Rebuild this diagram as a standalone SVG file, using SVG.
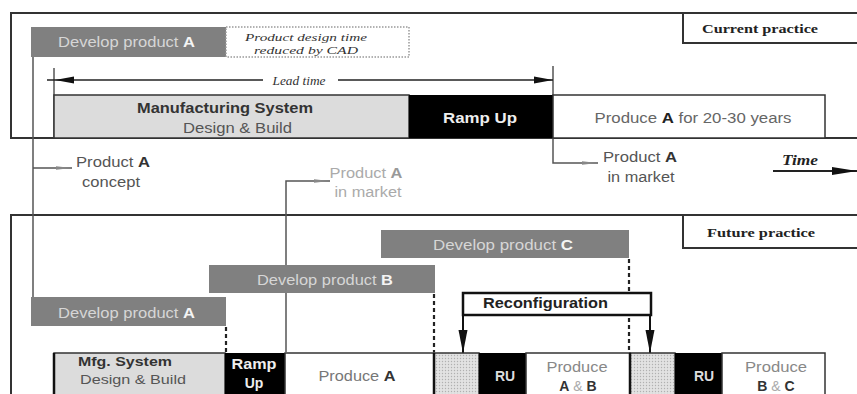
<svg xmlns="http://www.w3.org/2000/svg" width="857" height="394" viewBox="0 0 857 394">
<defs>
<style>
.frame{fill:none;stroke:#333;stroke-width:2}
.dev{fill:#808080}
.s{font-family:"Liberation Sans",Arial,sans-serif}
.sf{font-family:"Liberation Serif","Times New Roman",serif}
.devt{font-family:"Liberation Sans",Arial,sans-serif;font-size:14px;fill:#d6d6d6;text-anchor:middle}
.devt .b{fill:#f4f4f4}
.b{font-weight:bold}
.m{text-anchor:middle}
.thin{fill:none;stroke:#555;stroke-width:1.5}
.dash{fill:none;stroke:#222;stroke-width:2.2;stroke-dasharray:4 3}
.bar{stroke:#333;stroke-width:1.5}
</style>
<pattern id="dots" width="3" height="3" patternUnits="userSpaceOnUse">
<rect width="3" height="3" fill="#e2e2e2"/>
<circle cx="1.5" cy="1.5" r="0.7" fill="#b0b0b0"/>
</pattern>
<marker id="garrow" markerUnits="userSpaceOnUse" markerWidth="18" markerHeight="8" refX="16" refY="4" orient="auto"><path d="M0,2.3 L16,4 L0,5.7 Z" fill="#888"/></marker>
<marker id="barrow" markerUnits="userSpaceOnUse" markerWidth="20" markerHeight="10" refX="19" refY="5" orient="auto"><path d="M0,1.5 L19,5 L0,8.5 Z" fill="#111"/></marker>
<marker id="barrowS" markerUnits="userSpaceOnUse" markerWidth="20" markerHeight="10" refX="0" refY="5" orient="auto"><path d="M19,1.5 L0,5 L19,8.5 Z" fill="#111"/></marker>
<marker id="tarrow" markerUnits="userSpaceOnUse" markerWidth="26" markerHeight="12" refX="25" refY="6" orient="auto"><path d="M0,2 L25,6 L0,10 Z" fill="#111"/></marker>
<marker id="darrow" markerUnits="userSpaceOnUse" markerWidth="24" markerHeight="12" refX="23" refY="6" orient="auto"><path d="M0,1.5 L23,6 L0,10.5 Z" fill="#111"/></marker>
</defs>
<rect width="857" height="394" fill="#fff"/>

<!-- frames -->
<g id="current-frame">
<path class="frame" d="M858,13 H11 V138 H858"/>
<path class="frame" d="M683,13 V43 H858"/>
<text class="sf b m" x="760" y="33" font-size="13" fill="#222" textLength="116" lengthAdjust="spacingAndGlyphs">Current practice</text>
</g>
<g id="future-frame">
<path class="frame" d="M858,215 H11 V396"/>
<path class="frame" d="M683,215 V248 H858"/>
<text class="sf b m" x="761" y="237" font-size="13" fill="#222" textLength="108" lengthAdjust="spacingAndGlyphs">Future practice</text>
</g>

<!-- connectors -->
<g id="connectors">
<path class="thin" d="M33,57 V297"/>
<path class="thin" d="M33,168 H72" marker-end="url(#garrow)"/>
<path class="thin" d="M286,352 V181 H330" marker-end="url(#garrow)"/>
<path class="thin" d="M54,68 V138"/>
<path class="thin" d="M553,66 V163 H598" marker-end="url(#garrow)"/>
<path d="M47,80 H263" stroke="#222" stroke-width="1.6" fill="none"/>
<path d="M55,80 H263" stroke="none" fill="none" marker-start="url(#barrowS)"/>
<path d="M338,80 H553" stroke="#222" stroke-width="1.6" fill="none" marker-end="url(#barrow)"/>
<path d="M773,171 H857" stroke="#222" stroke-width="1.8" fill="none" marker-end="url(#tarrow)"/>
<path class="dash" d="M226,327 V352"/>
<path class="dash" d="M434,294 V352"/>
<path class="dash" d="M629,259 V292 M629,318 V352"/>
<path d="M463,315 V353" stroke="#111" stroke-width="2" fill="none" marker-end="url(#darrow)"/>
<path d="M650,315 V353" stroke="#111" stroke-width="2" fill="none" marker-end="url(#darrow)"/>
</g>

<!-- top section -->
<g id="develop-a-top">
<rect class="dev" x="31" y="27" width="195" height="30"/>
<text class="devt" x="126.5" y="47" textLength="137" lengthAdjust="spacingAndGlyphs">Develop product <tspan class="b">A</tspan></text>
</g>
<g id="cad-note">
<rect x="226" y="27" width="183" height="30" fill="none" stroke="#999" stroke-width="1.5" stroke-dasharray="1.5 1.5"/>
<text class="sf m" x="306" y="41" font-size="11" font-style="italic" fill="#333" textLength="122" lengthAdjust="spacingAndGlyphs">Product design time</text>
<text class="sf m" x="306" y="54" font-size="11" font-style="italic" fill="#333" textLength="104" lengthAdjust="spacingAndGlyphs">reduced by CAD</text>
</g>
<g id="lead-time">
<text class="sf m" x="299" y="85" font-size="12" font-style="italic" fill="#333" textLength="53" lengthAdjust="spacingAndGlyphs">Lead time</text>
</g>
<g id="mfg-top">
<rect class="bar" x="54" y="95" width="355" height="43" fill="#dcdcdc"/>
<text class="s b m" x="225" y="113" font-size="14" fill="#333" textLength="176" lengthAdjust="spacingAndGlyphs">Manufacturing System</text>
<text class="s m" x="237.5" y="133" font-size="14" fill="#555" textLength="109" lengthAdjust="spacingAndGlyphs">Design &amp; Build</text>
</g>
<g id="ramp-top">
<rect x="409" y="95" width="144" height="43" fill="#000"/>
<text class="s b m" x="480" y="123" font-size="14" fill="#eee" textLength="74" lengthAdjust="spacingAndGlyphs">Ramp Up</text>
</g>
<g id="produce-top">
<rect class="bar" x="553" y="95" width="272" height="43" fill="#fff"/>
<text class="s m" x="693" y="123" font-size="14" fill="#666" textLength="197" lengthAdjust="spacingAndGlyphs">Produce <tspan class="b" fill="#222">A</tspan>  for 20-30 years</text>
</g>
<g id="concept-label">
<text class="s m" x="113" y="167" font-size="14" fill="#555" textLength="74" lengthAdjust="spacingAndGlyphs">Product <tspan class="b" fill="#333">A</tspan></text>
<text class="s m" x="111" y="187" font-size="14" fill="#555" textLength="58" lengthAdjust="spacingAndGlyphs">concept</text>
</g>
<g id="market-label-future">
<text class="s m" x="366" y="178" font-size="14" fill="#aaa" textLength="73" lengthAdjust="spacingAndGlyphs">Product <tspan class="b" fill="#999">A</tspan></text>
<text class="s m" x="368" y="197" font-size="14" fill="#aaa" textLength="67" lengthAdjust="spacingAndGlyphs">in market</text>
</g>
<g id="market-label-current">
<text class="s m" x="640" y="162" font-size="14" fill="#555" textLength="74" lengthAdjust="spacingAndGlyphs">Product <tspan class="b" fill="#333">A</tspan></text>
<text class="s m" x="641" y="182" font-size="14" fill="#555" textLength="67" lengthAdjust="spacingAndGlyphs">in market</text>
</g>
<g id="time-label">
<text class="sf b m" x="800" y="165" font-size="14" font-style="italic" fill="#222" textLength="36" lengthAdjust="spacingAndGlyphs">Time</text>
</g>

<!-- bottom section -->
<g id="develop-c">
<rect class="dev" x="381" y="230" width="248" height="28"/>
<text class="devt" x="503" y="250" textLength="140" lengthAdjust="spacingAndGlyphs">Develop product <tspan class="b">C</tspan></text>
</g>
<g id="develop-b">
<rect class="dev" x="209" y="265" width="226" height="28"/>
<text class="devt" x="325" y="285" textLength="136" lengthAdjust="spacingAndGlyphs">Develop product <tspan class="b">B</tspan></text>
</g>
<g id="develop-a-bottom">
<rect class="dev" x="31" y="297" width="195" height="29"/>
<text class="devt" x="126.5" y="318" textLength="137" lengthAdjust="spacingAndGlyphs">Develop product <tspan class="b">A</tspan></text>
</g>
<g id="reconfiguration">
<rect x="463" y="293" width="188" height="22" fill="#fff" stroke="#111" stroke-width="2.5"/>
<text class="s b" x="483" y="308" font-size="14" fill="#222" textLength="125" lengthAdjust="spacingAndGlyphs">Reconfiguration</text>
</g>
<g id="mfg-bottom">
<rect class="bar" x="54" y="353" width="171" height="50" fill="#dcdcdc"/>
<text class="s b m" x="125" y="366" font-size="13" fill="#333" textLength="94" lengthAdjust="spacingAndGlyphs">Mfg. System</text>
<text class="s m" x="133" y="384" font-size="13" fill="#555" textLength="106" lengthAdjust="spacingAndGlyphs">Design &amp; Build</text>
</g>
<g id="ramp-bottom">
<rect x="225" y="353" width="60" height="50" fill="#000"/>
<text class="s b m" x="254" y="369" font-size="14" fill="#eee" textLength="45" lengthAdjust="spacingAndGlyphs">Ramp</text>
<text class="s b m" x="254" y="388" font-size="14" fill="#eee">Up</text>
</g>
<g id="produce-a-bottom">
<rect class="bar" x="285" y="353" width="149" height="50" fill="#fff"/>
<text class="s m" x="357" y="381" font-size="14" fill="#777" textLength="77" lengthAdjust="spacingAndGlyphs">Produce <tspan class="b" fill="#333">A</tspan></text>
</g>
<g id="reconf-1">
<rect x="434" y="353" width="45" height="50" fill="url(#dots)" stroke="#333" stroke-width="1.5"/>
</g>
<g id="ru-1">
<rect x="479" y="353" width="47" height="50" fill="#000"/>
<text class="s b m" x="505" y="381" font-size="14" fill="#ddd">RU</text>
</g>
<g id="produce-ab">
<rect class="bar" x="526" y="353" width="104" height="50" fill="#fff"/>
<text class="s m" x="577" y="372" font-size="14" fill="#888" textLength="61" lengthAdjust="spacingAndGlyphs">Produce</text>
<text class="s m" x="578" y="391" font-size="14" fill="#aaa"><tspan class="b" fill="#333">A</tspan> &amp; <tspan class="b" fill="#333">B</tspan></text>
</g>
<g id="reconf-2">
<rect x="630" y="353" width="45" height="50" fill="url(#dots)" stroke="#333" stroke-width="1.5"/>
</g>
<g id="ru-2">
<rect x="675" y="353" width="47" height="50" fill="#000"/>
<text class="s b m" x="704" y="381" font-size="14" fill="#ddd">RU</text>
</g>
<g id="produce-bc">
<rect class="bar" x="722" y="353" width="103" height="50" fill="#fff"/>
<text class="s m" x="776" y="372" font-size="14" fill="#888" textLength="62" lengthAdjust="spacingAndGlyphs">Produce</text>
<text class="s m" x="776" y="391" font-size="14" fill="#aaa"><tspan class="b" fill="#333">B</tspan> &amp; <tspan class="b" fill="#333">C</tspan></text>
</g>
<g id="bar-edges">
<path d="M54,353 V396 M434,353 V396 M630,353 V396" stroke="#111" stroke-width="2.5" fill="none"/>
</g>
</svg>
